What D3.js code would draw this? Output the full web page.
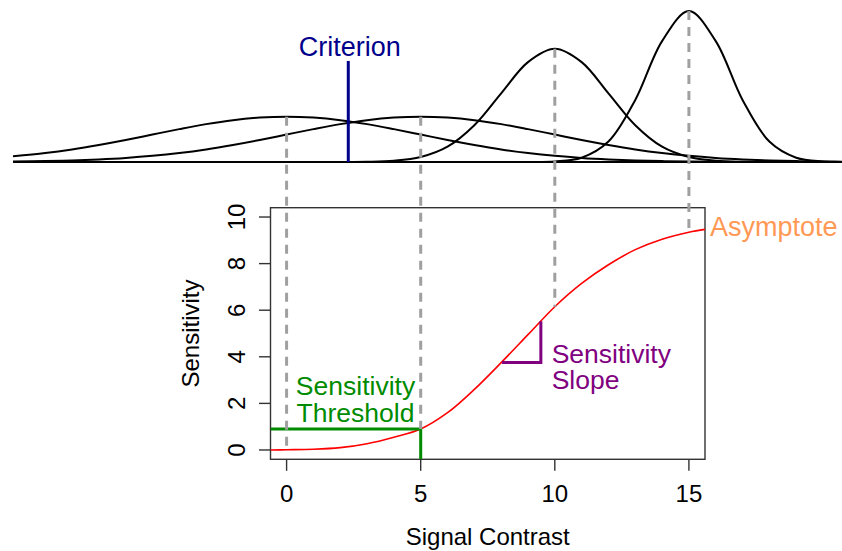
<!DOCTYPE html>
<html>
<head>
<meta charset="utf-8">
<script src="https://cdn.jsdelivr.net/npm/d3@7"></script>
<style>
  body { margin: 0; background: #fff; }
  svg { display: block; }
  text { font-family: "Liberation Sans", Arial, Helvetica, sans-serif; }
</style>
</head>
<body>
<svg id="board" width="842" height="551"></svg>
<script>
// top panel: four signal distributions (density)
var topX = [-10.2, -9, -8, -7, -6, -5, -4, -3, -2, -1, 0, 1, 2, 3, 4, 5, 6, 7, 8, 9, 10,
  11, 12, 13, 14, 15, 16, 17, 18, 19, 20, 21];
var dist0 = [0.0100, 0.0158, 0.0222, 0.0300, 0.0388, 0.0484, 0.0579, 0.0667, 0.0737, 0.0782, 0.0798,
  0.0782, 0.0737, 0.0667, 0.0579, 0.0484, 0.0388, 0.0300, 0.0222, 0.0158, 0.0108,
  0.0071, 0.0045, 0.0027, 0.0016, 0.0009, 0.0005, 0.0002, 0.0001, 0.0001, 0, 0];
var dist5 = [0.0008, 0.0016, 0.0027, 0.0045, 0.0071, 0.0108, 0.0158, 0.0222, 0.0300, 0.0388, 0.0484,
  0.0579, 0.0667, 0.0737, 0.0782, 0.0798, 0.0782, 0.0737, 0.0667, 0.0579, 0.0484,
  0.0388, 0.0300, 0.0222, 0.0158, 0.0108, 0.0071, 0.0045, 0.0027, 0.0016, 0.0009, 0.0005];
var dist10 = [0, 0, 0, 0, 0, 0, 0, 0, 0, 0, 0,
  0, 0.0001, 0.0004, 0.0022, 0.0088, 0.0270, 0.0648, 0.1210, 0.1760, 0.1995,
  0.1760, 0.1210, 0.0648, 0.0270, 0.0088, 0.0022, 0.0004, 0.0001, 0, 0, 0];
var dist15 = [0, 0, 0, 0, 0, 0, 0, 0, 0, 0, 0,
  0, 0, 0, 0, 0, 0, 0, 0, 0.0001, 0.0010,
  0.0076, 0.0360, 0.1093, 0.2130, 0.2660, 0.2130, 0.1093, 0.0360, 0.0076, 0.0010, 0.0001];
var dists = [dist0, dist5, dist10, dist15];
var distMeans = [0, 5, 10, 15];
var criterion = 2.3;
var criterionTop = 0.178;

// bottom panel: sensitivity vs signal contrast
var sigX = [-0.6, 0, 1, 2, 3, 4, 5, 6, 7, 8, 9, 10, 11, 12, 13, 14, 15, 15.6];
var sigY = [0, 0.01, 0.03, 0.1, 0.27, 0.55, 0.9, 1.6, 2.6, 3.75, 4.95, 6.15, 7.15, 7.95, 8.6, 9.05, 9.35, 9.47];
var xTicks = [0, 5, 10, 15];
var yTicks = [0, 2, 4, 6, 8, 10];
var threshold = { x: 5, y: 0.9 };
var slopeX = [8.03, 9.48];
var slopeY = [3.76, 5.53];

var colors = {
  criterion: "#00008b",
  threshold: "#008b00",
  slope: "#800080",
  asymptote: "#ff9955",
  curve: "#ff0000",
  dash: "#a0a0a0",
};

var svg = d3.select("#board");

var x = d3.scaleLinear().domain([-0.6, 15.6]).range([270.5, 705]);
var yTop = d3.scaleLinear().domain([0, 0.266]).range([162, 11]);
var y = d3.scaleLinear().domain([-0.4, 10.4]).range([459.3, 207.7]);

// top panel
var topLine = d3.line()
  .x(function (d) { return x(d[0]); })
  .y(function (d) { return yTop(d[1]); })
  .curve(d3.curveCatmullRom);

svg.append("line")
  .attr("x1", x(topX[0])).attr("x2", x(topX[topX.length - 1]))
  .attr("y1", yTop(0)).attr("y2", yTop(0))
  .attr("stroke", "black").attr("stroke-width", 2);

svg.append("g").selectAll("path")
  .data(dists)
  .enter()
  .append("path")
  .attr("d", function (d) { return topLine(d3.zip(topX, d)); })
  .attr("fill", "none")
  .attr("stroke", "black")
  .attr("stroke-width", 2);

svg.append("line")
  .attr("x1", x(criterion)).attr("x2", x(criterion))
  .attr("y1", yTop(0)).attr("y2", yTop(criterionTop))
  .attr("stroke", colors.criterion).attr("stroke-width", 3);

svg.append("text")
  .attr("x", x(criterion) + 1.5).attr("y", 55.5)
  .attr("text-anchor", "middle")
  .attr("font-size", 27)
  .attr("fill", colors.criterion)
  .text("Criterion");

// bottom panel: box + axes
var plot = svg.append("g");

plot.append("rect")
  .attr("x", x.range()[0]).attr("y", y.range()[1])
  .attr("width", x.range()[1] - x.range()[0])
  .attr("height", y.range()[0] - y.range()[1])
  .attr("fill", "none").attr("stroke", "#333").attr("stroke-width", 1.4);

plot.selectAll(".xtick")
  .data(xTicks)
  .enter()
  .append("line")
  .attr("x1", function (d) { return x(d); }).attr("x2", function (d) { return x(d); })
  .attr("y1", y.range()[0]).attr("y2", y.range()[0] + 11.5)
  .attr("stroke", "#333").attr("stroke-width", 1.4);

plot.selectAll(".xlab")
  .data(xTicks)
  .enter()
  .append("text")
  .attr("x", function (d) { return x(d); })
  .attr("y", 502)
  .attr("text-anchor", "middle")
  .attr("font-size", 24)
  .text(function (d) { return d; });

plot.selectAll(".ytick")
  .data(yTicks)
  .enter()
  .append("line")
  .attr("x1", x.range()[0]).attr("x2", x.range()[0] - 11.5)
  .attr("y1", function (d) { return y(d); }).attr("y2", function (d) { return y(d); })
  .attr("stroke", "#333").attr("stroke-width", 1.4);

plot.selectAll(".ylab")
  .data(yTicks)
  .enter()
  .append("text")
  .attr("transform", function (d) { return "translate(245," + y(d) + ") rotate(-90)"; })
  .attr("text-anchor", "middle")
  .attr("font-size", 24)
  .text(function (d) { return d; });

plot.append("text")
  .attr("x", (x.range()[0] + x.range()[1]) / 2).attr("y", 545)
  .attr("text-anchor", "middle")
  .attr("font-size", 24)
  .text("Signal Contrast");

plot.append("text")
  .attr("transform", "translate(199," + (y.range()[0] + y.range()[1]) / 2 + ") rotate(-90)")
  .attr("text-anchor", "middle")
  .attr("font-size", 24)
  .text("Sensitivity");

// clip for lines inside the box
svg.append("clipPath").attr("id", "box")
  .append("rect")
  .attr("x", x.range()[0]).attr("y", y.range()[1])
  .attr("width", x.range()[1] - x.range()[0])
  .attr("height", y.range()[0] - y.range()[1]);

var inner = svg.append("g").attr("clip-path", "url(#box)");

inner.append("path")
  .attr("d", d3.line()
    .x(function (d) { return x(d[0]); })
    .y(function (d) { return y(d[1]); })
    .curve(d3.curveCatmullRom)(d3.zip(sigX, sigY)))
  .attr("fill", "none")
  .attr("stroke", colors.curve)
  .attr("stroke-width", 1.6);

// threshold marker
inner.append("path")
  .attr("d", "M" + x(-0.6) + "," + y(threshold.y) + "H" + x(threshold.x) + "V" + y(-0.4))
  .attr("fill", "none")
  .attr("stroke", colors.threshold)
  .attr("stroke-width", 3);

// slope marker
inner.append("path")
  .attr("d", "M" + x(slopeX[0]) + "," + y(slopeY[0]) + "H" + x(slopeX[1]) + "V" + y(slopeY[1]))
  .attr("fill", "none")
  .attr("stroke", colors.slope)
  .attr("stroke-width", 3);

// dashed guides from each distribution peak to the curve
svg.append("g").selectAll("line")
  .data(distMeans)
  .enter()
  .append("line")
  .attr("x1", function (d) { return x(d); })
  .attr("x2", function (d) { return x(d); })
  .attr("y1", function (d, i) { return yTop(dists[i][topX.indexOf(d)]); })
  .attr("y2", function (d) { return y(sigY[sigX.indexOf(d)]); })
  .attr("stroke", colors.dash)
  .attr("stroke-width", 3)
  .attr("stroke-dasharray", "9,7");

var thr = svg.append("text")
  .attr("x", x(2.57)).attr("y", 395)
  .attr("text-anchor", "middle")
  .attr("font-size", 26.5)
  .attr("fill", colors.threshold);
thr.append("tspan").attr("x", x(2.57)).text("Sensitivity");
thr.append("tspan").attr("x", x(2.57)).attr("dy", 27).text("Threshold");

var slp = svg.append("text")
  .attr("x", 551.7).attr("y", 362.5)
  .attr("font-size", 26.5)
  .attr("fill", colors.slope);
slp.append("tspan").attr("x", 551.7).text("Sensitivity");
slp.append("tspan").attr("x", 551.7).attr("dy", 26.5).text("Slope");

svg.append("text")
  .attr("x", x.range()[1] + 5).attr("y", 236)
  .attr("font-size", 27)
  .attr("fill", colors.asymptote)
  .text("Asymptote");
</script>
</body>
</html>
